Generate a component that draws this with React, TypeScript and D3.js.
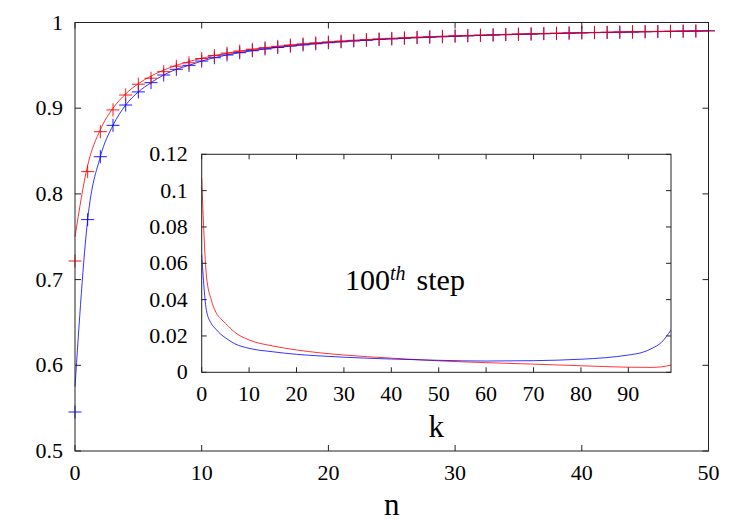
import React from "react";
import * as d3 from "d3";

// Main panel: convergence over steps n
const nValues: number[] = d3.range(0, 51);

const redLine: number[] = [
  0.75, 0.8333, 0.875, 0.9, 0.9167, 0.9286, 0.9375, 0.9444, 0.95, 0.9545,
  0.9583, 0.9615, 0.9643, 0.9667, 0.9688, 0.9706, 0.9722, 0.9737, 0.975, 0.9762,
  0.9773, 0.9783, 0.9792, 0.98, 0.9808, 0.9815, 0.9821, 0.9828, 0.9833, 0.9839,
  0.9844, 0.9848, 0.9853, 0.9857, 0.9861, 0.9865, 0.9868, 0.9872, 0.9875, 0.9878,
  0.9881, 0.9884, 0.9886, 0.9889, 0.9891, 0.9894, 0.9896, 0.9898, 0.99, 0.9902,
  0.9904,
];

const blueLine: number[] = [
  0.575, 0.77, 0.8434, 0.88, 0.9037, 0.919, 0.9298, 0.9387, 0.9454, 0.95,
  0.955, 0.9589, 0.9621, 0.9648, 0.9671, 0.9691, 0.9709, 0.9725, 0.9739, 0.9752,
  0.9764, 0.9775, 0.9785, 0.9793, 0.9802, 0.9809, 0.9816, 0.9823, 0.9829, 0.9834,
  0.984, 0.9844, 0.9849, 0.9854, 0.9858, 0.9862, 0.9865, 0.9869, 0.9872, 0.9876,
  0.9879, 0.9882, 0.9884, 0.9887, 0.9889, 0.9892, 0.9894, 0.9896, 0.9898, 0.99,
  0.9902,
];

const redMarks: number[] = [
  0.7217, 0.826, 0.8726, 0.898, 0.9154, 0.928, 0.935, 0.9426, 0.949, 0.953,
  0.958, 0.9615, 0.9643, 0.9667, 0.9688, 0.9706, 0.9722, 0.9737, 0.975, 0.9762,
  0.9773, 0.9783, 0.9792, 0.98, 0.9808, 0.9815, 0.9821, 0.9828, 0.9833, 0.9839,
  0.9844, 0.9848, 0.9853, 0.9857, 0.9861, 0.9865, 0.9868, 0.9872, 0.9875, 0.9878,
  0.9881, 0.9884, 0.9886, 0.9889, 0.9891, 0.9894, 0.9896, 0.9898, 0.99, 0.9902,
  0.9904,
];

const blueMarks: number[] = [
  0.5455, 0.77, 0.8434, 0.88, 0.9037, 0.919, 0.9298, 0.9387, 0.9454, 0.95,
  0.955, 0.9589, 0.9621, 0.9648, 0.9671, 0.9691, 0.9709, 0.9725, 0.9739, 0.9752,
  0.9764, 0.9775, 0.9785, 0.9793, 0.9802, 0.9809, 0.9816, 0.9823, 0.9829, 0.9834,
  0.984, 0.9844, 0.9849, 0.9854, 0.9858, 0.9862, 0.9865, 0.9869, 0.9872, 0.9876,
  0.9879, 0.9882, 0.9884, 0.9887, 0.9889, 0.9892, 0.9894, 0.9896, 0.9898, 0.99,
  0.9902,
];

const mainXTicks: number[] = [0, 10, 20, 30, 40, 50];
const mainYTicks: number[] = [0.5, 0.6, 0.7, 0.8, 0.9, 1];

// Inset: distribution over k at the 100th step
const insetRedK: number[] = [0, 1, 2, 3, 4, 5, 7, 10, 15, 20, 25, 30, 40, 50, 60, 70, 80, 90, 95, 97, 99];
const insetRedV: number[] = [
  0.107, 0.053, 0.04, 0.033, 0.0295, 0.027, 0.022, 0.0178, 0.0145, 0.0123, 0.0107,
  0.0095, 0.0078, 0.0063, 0.0053, 0.0045, 0.0036, 0.0028, 0.0027, 0.003, 0.004,
];
const insetBlueK: number[] = [0, 1, 2, 3, 4, 5, 7, 10, 15, 20, 25, 30, 40, 50, 60, 70, 80, 85, 90, 93, 95, 97, 99];
const insetBlueV: number[] = [
  0.065, 0.034, 0.027, 0.0237, 0.021, 0.019, 0.0157, 0.0132, 0.0113, 0.0099, 0.009,
  0.0083, 0.0073, 0.0066, 0.0062, 0.0064, 0.0072, 0.008, 0.0095, 0.011, 0.0132,
  0.0165, 0.0233,
];

const insetXTicks: number[] = [0, 10, 20, 30, 40, 50, 60, 70, 80, 90];
const insetYTicks: number[] = [0, 0.02, 0.04, 0.06, 0.08, 0.1, 0.12];

const FONT = '"Liberation Serif"';
const RED = "#ff0000";
const BLUE = "#0000ff";
const FRAME = "#222";

const main = { left: 75, right: 708.5, top: 22.5, bottom: 451 };
const inset = { left: 201.7, right: 671, top: 154.3, bottom: 372.3 };

const textStyle: React.CSSProperties = { fontFamily: FONT, fill: "#000" };

function fmt(v: number): string {
  return String(+v.toFixed(2));
}

export default function App() {
  const x = d3.scaleLinear().domain([0, 50]).range([main.left, main.right]);
  const y = d3.scaleLinear().domain([0.5, 1]).range([main.bottom, main.top]);
  const ix = d3.scaleLinear().domain([0, 99]).range([inset.left, inset.right]);
  const iy = d3.scaleLinear().domain([0, 0.12]).range([inset.bottom, inset.top]);

  const mainLine = d3
    .line<number>()
    .x((_, i) => x(nValues[i]))
    .y((d) => y(d))
    .curve(d3.curveMonotoneX);

  const redPath = mainLine(redLine) || "";
  const bluePath = mainLine(blueLine) || "";

  const insetLine = (ks: number[]) =>
    d3
      .line<number>()
      .x((_, i) => ix(ks[i]))
      .y((d) => iy(d))
      .curve(d3.curveMonotoneX);

  const insetRedPath = insetLine(insetRedK)(insetRedV) || "";
  const insetBluePath = insetLine(insetBlueK)(insetBlueV) || "";

  const tick = 6;
  const half = 6.5;

  const plus = (cx: number, cy: number, color: string, key: string) => (
    <path
      key={key}
      d={`M${cx - half},${cy}H${cx + half}M${cx},${cy - half}V${cy + half}`}
      stroke={color}
      strokeWidth={0.9}
      fill="none"
    />
  );

  return (
    <svg
      width={750}
      height={525}
      style={{ position: "absolute", left: 0, top: 0, background: "#fff" }}
    >
      <defs>
        <clipPath id="insetClip">
          <rect x={inset.left} y={inset.top} width={inset.right - inset.left} height={inset.bottom - inset.top} />
        </clipPath>
      </defs>

      {/* main panel curves and markers */}
      <path d={bluePath} stroke={BLUE} strokeWidth={0.8} fill="none" />
      <path d={redPath} stroke={RED} strokeWidth={0.8} fill="none" />
      {blueMarks.map((v, i) => plus(x(nValues[i]), y(v), BLUE, `b${i}`))}
      {redMarks.map((v, i) => plus(x(nValues[i]), y(v), RED, `r${i}`))}

      {/* main frame and ticks */}
      <rect
        x={main.left}
        y={main.top}
        width={main.right - main.left}
        height={main.bottom - main.top}
        fill="none"
        stroke={FRAME}
        strokeWidth={1}
      />
      {mainXTicks.map((t) => (
        <g key={`mx${t}`}>
          <line x1={x(t)} x2={x(t)} y1={main.bottom} y2={main.bottom - tick} stroke={FRAME} />
          <line x1={x(t)} x2={x(t)} y1={main.top} y2={main.top + tick} stroke={FRAME} />
          <text x={x(t)} y={main.bottom + 29} fontSize={22} textAnchor="middle" style={textStyle}>
            {fmt(t)}
          </text>
        </g>
      ))}
      {mainYTicks.map((t) => (
        <g key={`my${t}`}>
          <line x1={main.left} x2={main.left + tick} y1={y(t)} y2={y(t)} stroke={FRAME} />
          <line x1={main.right} x2={main.right - tick} y1={y(t)} y2={y(t)} stroke={FRAME} />
          <text x={main.left - 12} y={y(t) + 7} fontSize={22} textAnchor="end" style={textStyle}>
            {fmt(t)}
          </text>
        </g>
      ))}
      <text x={(main.left + main.right) / 2} y={515} fontSize={31} textAnchor="middle" style={textStyle}>
        n
      </text>

      {/* inset panel */}
      <rect
        x={inset.left}
        y={inset.top}
        width={inset.right - inset.left}
        height={inset.bottom - inset.top}
        fill="#fff"
      />
      <g clipPath="url(#insetClip)">
        <path d={insetRedPath} stroke={RED} strokeWidth={0.8} fill="none" />
        <path d={insetBluePath} stroke={BLUE} strokeWidth={0.8} fill="none" />
      </g>
      <rect
        x={inset.left}
        y={inset.top}
        width={inset.right - inset.left}
        height={inset.bottom - inset.top}
        fill="none"
        stroke={FRAME}
        strokeWidth={1}
      />
      {insetXTicks.map((t) => (
        <g key={`ix${t}`}>
          <line x1={ix(t)} x2={ix(t)} y1={inset.bottom} y2={inset.bottom - 5} stroke={FRAME} />
          <line x1={ix(t)} x2={ix(t)} y1={inset.top} y2={inset.top + 5} stroke={FRAME} />
          <text x={ix(t)} y={inset.bottom + 28.5} fontSize={22} textAnchor="middle" style={textStyle}>
            {fmt(t)}
          </text>
        </g>
      ))}
      {insetYTicks.map((t) => (
        <g key={`iy${t}`}>
          <line x1={inset.left} x2={inset.left + 5} y1={iy(t)} y2={iy(t)} stroke={FRAME} />
          <line x1={inset.right} x2={inset.right - 5} y1={iy(t)} y2={iy(t)} stroke={FRAME} />
          <text x={inset.left - 14} y={iy(t) + 7} fontSize={22} textAnchor="end" style={textStyle}>
            {fmt(t)}
          </text>
        </g>
      ))}
      <text x={(inset.left + inset.right) / 2} y={437} fontSize={31} textAnchor="middle" style={textStyle}>
        k
      </text>
      <text x={345} y={290} fontSize={30} style={textStyle}>
        100
        <tspan fontSize={20} fontStyle="italic" dy={-10}>th</tspan>
        <tspan dy={10} dx={11}>step</tspan>
      </text>
    </svg>
  );
}
